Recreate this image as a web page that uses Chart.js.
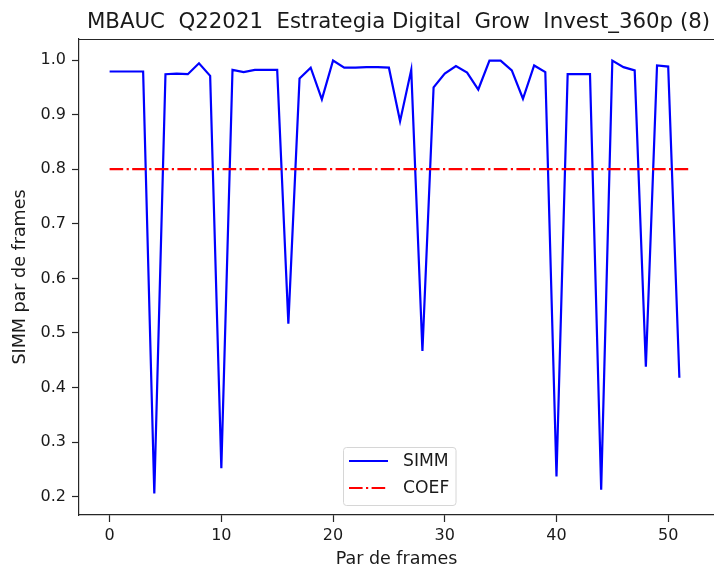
<!DOCTYPE html>
<html>
<head>
<meta charset="utf-8">
<script src="https://cdn.jsdelivr.net/npm/chart.js@4/dist/chart.umd.min.js"></script>
<style>
  html, body { margin: 0; padding: 0; background: #ffffff; overflow: hidden; }
  canvas { display: block; }
</style>
</head>
<body>
<canvas id="chart" width="714" height="571"></canvas>
<script>
// SIMM similarity between consecutive frame pairs
const simm = [
  0.979, 0.979, 0.979, 0.979, 0.206, 0.974, 0.975, 0.974, 0.994, 0.971,
  0.252, 0.982, 0.978, 0.982, 0.982, 0.982, 0.517, 0.966, 0.986, 0.928,
  0.999, 0.986, 0.986, 0.987, 0.987, 0.986, 0.888, 0.982, 0.467, 0.950,
  0.975, 0.989, 0.977, 0.946, 0.999, 0.999, 0.981, 0.929, 0.990, 0.978,
  0.237, 0.974, 0.974, 0.974, 0.213, 0.999, 0.987, 0.981, 0.438, 0.990,
  0.988, 0.418
];
// Threshold coefficient line (start / end frame pair)
const coefX = [0, 52];
const coef = [0.8, 0.8];

const xTicks = [0, 10, 20, 30, 40, 50];
const yTicks = [0.2, 0.3, 0.4, 0.5, 0.6, 0.7, 0.8, 0.9, 1.0];

const titleText = 'MBAUC  Q22021  Estrategia Digital  Grow  Invest_360p (8)';
const FONT = "'DejaVu Sans', sans-serif";
const INK = '#1a1a1a';
const SPINE = '#262626';

// Title, top spine and in-plot legend
const decorations = {
  id: 'decorations',
  afterDatasetsDraw(chart) {
    const ctx = chart.ctx;
    const a = chart.chartArea;
    ctx.save();
    // top spine
    ctx.strokeStyle = SPINE;
    ctx.lineWidth = 1.2;
    ctx.beginPath();
    ctx.moveTo(a.left, a.top + 0.5);
    ctx.lineTo(a.right, a.top + 0.5);
    ctx.stroke();

    // title
    ctx.fillStyle = INK;
    ctx.font = '21.3px ' + FONT;
    ctx.textAlign = 'center';
    ctx.textBaseline = 'alphabetic';
    ctx.fillText(titleText, 398.5, 27.7);

    // legend box
    const bx = 343.5, by = 447.5, bw = 112.5, bh = 58, r = 3;
    ctx.beginPath();
    ctx.moveTo(bx + r, by);
    ctx.lineTo(bx + bw - r, by);
    ctx.arcTo(bx + bw, by, bx + bw, by + r, r);
    ctx.lineTo(bx + bw, by + bh - r);
    ctx.arcTo(bx + bw, by + bh, bx + bw - r, by + bh, r);
    ctx.lineTo(bx + r, by + bh);
    ctx.arcTo(bx, by + bh, bx, by + bh - r, r);
    ctx.lineTo(bx, by + r);
    ctx.arcTo(bx, by, bx + r, by, r);
    ctx.closePath();
    ctx.fillStyle = 'rgba(255,255,255,0.8)';
    ctx.fill();
    ctx.strokeStyle = '#d6d6d6';
    ctx.lineWidth = 1;
    ctx.stroke();

    const rows = [461, 488];
    chart.data.datasets.forEach((ds, i) => {
      const y = rows[i];
      ctx.strokeStyle = ds.borderColor;
      ctx.lineWidth = ds.borderWidth;
      ctx.lineCap = 'butt';
      ctx.setLineDash(ds.borderDash || []);
      ctx.beginPath();
      ctx.moveTo(349, y);
      ctx.lineTo(388, y);
      ctx.stroke();
      ctx.setLineDash([]);
      ctx.fillStyle = INK;
      ctx.font = '17.2px ' + FONT;
      ctx.textAlign = 'left';
      ctx.textBaseline = 'middle';
      ctx.fillText(ds.label, 403, y + 1);
    });
    ctx.restore();
  }
};

new Chart(document.getElementById('chart'), {
  type: 'line',
  data: {
    datasets: [
      {
        label: 'SIMM',
        data: simm.map((v, i) => ({ x: i, y: v })),
        borderColor: '#0000ff',
        borderWidth: 2.2,
        pointRadius: 0,
        tension: 0,
        fill: false,
        order: 1
      },
      {
        label: 'COEF',
        data: coefX.map((x, i) => ({ x: x, y: coef[i] })),
        borderColor: '#ff0000',
        borderWidth: 2.2,
        borderDash: [13.6, 3.4, 2.2, 3.4],
        borderCapStyle: 'butt',
        pointRadius: 0,
        fill: false,
        order: 0
      }
    ]
  },
  options: {
    responsive: false,
    animation: false,
    devicePixelRatio: 1,
    layout: { padding: { top: 39, right: 0, bottom: 0, left: 0 } },
    plugins: {
      legend: { display: false },
      title: { display: false },
      tooltip: { enabled: false }
    },
    scales: {
      x: {
        type: 'linear',
        min: -2.74,
        max: 54.1,
        afterFit(s) { s.height = 56; },
        afterBuildTicks(s) { s.ticks = xTicks.map(v => ({ value: v })); },
        ticks: {
          color: INK,
          font: { family: FONT, size: 16 },
          padding: 4,
          maxRotation: 0,
          autoSkip: false,
          callback: v => String(v)
        },
        grid: { drawOnChartArea: false, drawTicks: true, tickLength: 7, color: SPINE, tickWidth: 1.2 },
        border: { display: true, color: SPINE, width: 1.2 },
        title: {
          display: true,
          text: 'Par de frames',
          color: INK,
          font: { family: FONT, size: 17.5 },
          padding: { top: 0, bottom: 1 }
        }
      },
      y: {
        type: 'linear',
        min: 0.1665,
        max: 1.0385,
        afterFit(s) { s.width = 79; },
        afterBuildTicks(s) { s.ticks = yTicks.map(v => ({ value: v })); },
        ticks: {
          color: INK,
          font: { family: FONT, size: 16 },
          padding: 6,
          autoSkip: false,
          callback: v => v.toFixed(1)
        },
        grid: { drawOnChartArea: false, drawTicks: true, tickLength: 7, color: SPINE, tickWidth: 1.2 },
        border: { display: true, color: SPINE, width: 1.2 },
        title: {
          display: true,
          text: 'SIMM par de frames',
          color: INK,
          font: { family: FONT, size: 17.5 },
          padding: { top: 10, bottom: 0 }
        }
      }
    }
  },
  plugins: [decorations]
});
</script>
</body>
</html>
